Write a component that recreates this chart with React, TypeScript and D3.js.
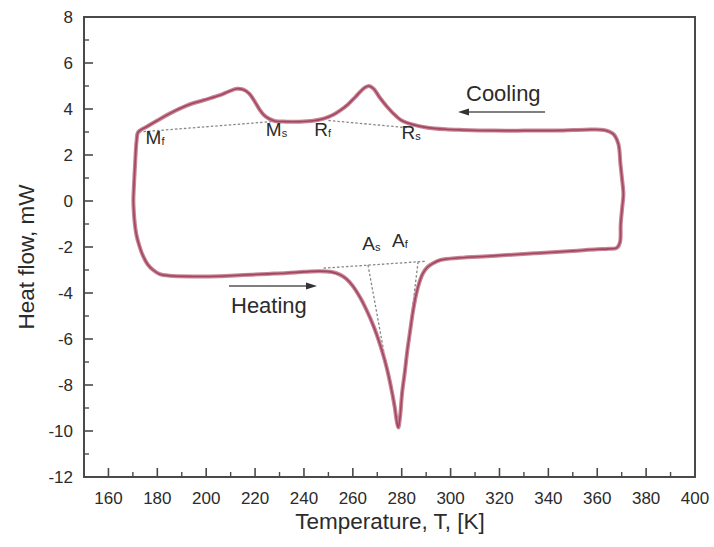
import React from "react";
import * as d3 from "d3";

// Cooling branch, read right to left (T in K, heat flow in mW)
const coolT = [369.5, 368.6, 366.5, 363, 355, 346, 330, 318, 305, 298, 290, 284.6, 280, 277.8, 274, 271, 268.5, 266.5, 264.5, 261, 258, 255, 252, 248, 243.7, 238, 232.9, 228, 225.4, 223.5, 222, 220, 217.5, 215, 212.4, 209, 205.6, 198.8, 192, 185, 180, 176, 172.2, 171.5, 170.9, 170.4];
const coolHF = [1.6, 2.5, 2.92, 3.08, 3.1, 3.07, 3.06, 3.06, 3.09, 3.12, 3.2, 3.32, 3.5, 3.68, 4.1, 4.5, 4.88, 5.0, 4.9, 4.52, 4.2, 3.95, 3.75, 3.58, 3.49, 3.45, 3.45, 3.48, 3.6, 3.75, 3.95, 4.3, 4.68, 4.85, 4.88, 4.75, 4.6, 4.38, 4.15, 3.8, 3.5, 3.25, 3.0, 2.6, 1.6, 0.6];

// Heating branch, read left to right
const heatT = [170.2, 170.4, 170.8, 171.5, 172.8, 174.2, 176, 178.3, 181, 185, 195, 205, 215, 225, 233, 240, 246.5, 251, 254.7, 257.5, 260, 263, 265.6, 268.5, 271, 273, 274.4, 276, 277.1, 278, 278.6, 279.3, 280.2, 281.2, 282.3, 283.3, 284.6, 286, 287.5, 288.7, 290.5, 292.8, 296, 303.7, 315, 322.8, 335, 350, 360, 364.5, 368, 369.3, 369.6, 370.2, 370.7, 370.1];
const heatHF = [0, -0.5, -1.0, -1.5, -2.0, -2.4, -2.75, -3.0, -3.18, -3.25, -3.28, -3.27, -3.22, -3.17, -3.13, -3.08, -3.05, -3.08, -3.2, -3.4, -3.7, -4.2, -4.74, -5.45, -6.2, -6.9, -7.49, -8.3, -8.94, -9.6, -9.85, -9.4, -8.3, -7.49, -6.5, -5.75, -4.8, -4.01, -3.45, -3.14, -2.88, -2.71, -2.56, -2.47, -2.4, -2.35, -2.27, -2.17, -2.1, -2.08, -2.04, -1.8, -1.0, -0.3, 0.3, 1.0];

// Construction lines (baselines and tangents): [T1, HF1, T2, HF2]
const guideLines = [
  [172.5, 3.0, 229, 3.47],
  [250, 3.5, 283, 3.18],
  [248, -2.92, 290, -2.62],
  [266.2, -2.78, 277.8, -9.52],
  [286.7, -2.64, 279.2, -9.23],
];

// Transformation point labels: [main, subscript, T, HF]
const pointLabels: [string, string, number, number][] = [
  ["M", "f", 175.2, 2.48],
  ["M", "s", 224.4, 2.82],
  ["R", "f", 244.2, 2.82],
  ["R", "s", 279.9, 2.69],
  ["A", "s", 263.9, -2.15],
  ["A", "f", 276.0, -1.99],
];

const xTicks = d3.range(160, 401, 20);
const yTicks = d3.range(-12, 9, 2);

const W = 714;
const H = 547;
const left = 84;
const right = 695;
const top = 17;
const bottom = 477;

export default function App() {
  const x = d3.scaleLinear().domain([150, 400]).range([left, right]);
  const y = d3.scaleLinear().domain([-12, 8]).range([bottom, top]);

  const pts: [number, number][] = [];
  coolT.forEach((t, i) => pts.push([t, coolHF[i]]));
  heatT.forEach((t, i) => pts.push([t, heatHF[i]]));

  const loop = d3
    .line<[number, number]>()
    .x((d) => x(d[0]))
    .y((d) => y(d[1]))
    .curve(d3.curveCatmullRomClosed.alpha(0.5))(pts) as string;

  const minorX = d3.range(150, 401, 10).filter((v) => v % 20 !== 0);
  const minorY = d3.range(-11, 8, 2);
  const axisColor = "#4a4a4a";
  const ink = "#2b2b2b";
  const font = "Liberation Sans, Arial, sans-serif";

  return (
    <svg width={W} height={H} style={{ position: "absolute", left: 0, top: 0, background: "#fff" }} fontFamily={font}>
      <rect x={left} y={top} width={right - left} height={bottom - top} fill="none" stroke={axisColor} strokeWidth={2} />

      {xTicks.map((t) => (
        <g key={"xt" + t}>
          <line x1={x(t)} x2={x(t)} y1={bottom} y2={bottom - 9} stroke={axisColor} strokeWidth={1.6} />
          <text x={x(t)} y={bottom + 27} textAnchor="middle" fontSize={17} fill={ink}>{t}</text>
        </g>
      ))}
      {minorX.map((t) => (
        <line key={"xm" + t} x1={x(t)} x2={x(t)} y1={bottom} y2={bottom - 5} stroke={axisColor} strokeWidth={1.4} />
      ))}
      {yTicks.map((t) => (
        <g key={"yt" + t}>
          <line x1={left} x2={left + 9} y1={y(t)} y2={y(t)} stroke={axisColor} strokeWidth={1.6} />
          <text x={left - 11} y={y(t) + 6} textAnchor="end" fontSize={17} fill={ink}>{t}</text>
        </g>
      ))}
      {minorY.map((t) => (
        <line key={"ym" + t} x1={left} x2={left + 5} y1={y(t)} y2={y(t)} stroke={axisColor} strokeWidth={1.4} />
      ))}

      <text x={390} y={529} textAnchor="middle" fontSize={22.5} fill={ink}>Temperature, T, [K]</text>
      <text transform={`translate(34, ${(top + bottom) / 2 + 10}) rotate(-90)`} textAnchor="middle" fontSize={22.5} fill={ink}>Heat flow, mW</text>

      {guideLines.map((g, i) => (
        <line key={"g" + i} x1={x(g[0])} y1={y(g[1])} x2={x(g[2])} y2={y(g[3])} stroke="#888" strokeWidth={1.3} strokeDasharray="2.5,2" />
      ))}

      <path d={loop} fill="none" stroke="#c58596" strokeWidth={4} strokeLinejoin="round" />
      <path d={loop} fill="none" stroke="#a4465f" strokeWidth={1.6} strokeLinejoin="round" />

      {pointLabels.map(([m, s, t, v], i) => (
        <text key={"pl" + i} x={x(t)} y={y(v)} fontSize={19} fill={ink}>
          {m}
          <tspan fontSize={11} dy={1}>{s}</tspan>
        </text>
      ))}

      <text x={466} y={101} fontSize={22} fill={ink}>Cooling</text>
      <line x1={545} x2={466} y1={112} y2={112} stroke="#555" strokeWidth={1.3} />
      <path d="M458,112 L469,108.5 L469,115.5 Z" fill="#333" />

      <text x={231} y={313} fontSize={22} fill={ink}>Heating</text>
      <line x1={229} x2={308} y1={286} y2={286} stroke="#555" strokeWidth={1.3} />
      <path d="M317,286 L306,282.5 L306,289.5 Z" fill="#333" />
    </svg>
  );
}
